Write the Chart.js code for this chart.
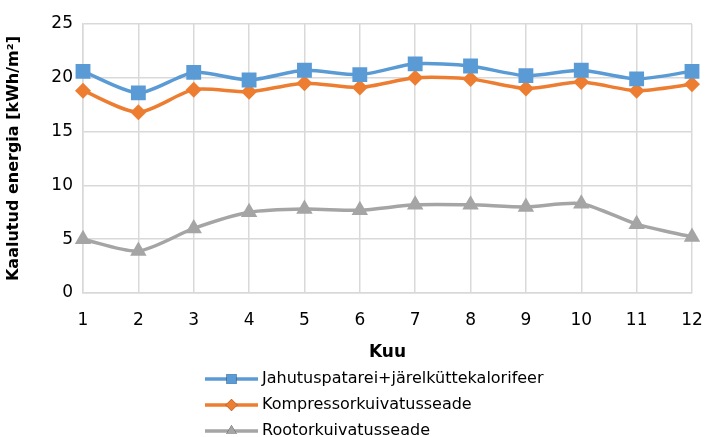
<!DOCTYPE html>
<html>
<head>
<meta charset="utf-8">
<script src="https://cdn.jsdelivr.net/npm/chart.js@4"></script>
<style>
  html, body { margin: 0; padding: 0; background: #fff; }
  #wrap { width: 707px; height: 437px; }
</style>
</head>
<body>
<div id="wrap"><canvas id="c" width="707" height="437"></canvas></div>
<script>
// Monthly weighted energy per dehumidification option
const months = ['1', '2', '3', '4', '5', '6', '7', '8', '9', '10', '11', '12'];
const coolingCoil = [20.6, 18.6, 20.5, 19.8, 20.7, 20.3, 21.3, 21.1, 20.2, 20.7, 19.9, 20.6];
const compressorDryer = [18.8, 16.8, 18.9, 18.7, 19.5, 19.1, 20.0, 19.9, 19.0, 19.6, 18.8, 19.4];
const rotorDryer = [5.0, 3.9, 6.0, 7.5, 7.8, 7.7, 8.2, 8.2, 8.0, 8.3, 6.4, 5.2];
const seriesNames = ['Jahutuspatarei+järelküttekalorifeer', 'Kompressorkuivatusseade', 'Rootorkuivatusseade'];
const yTicks = [0, 5, 10, 15, 20, 25];

const FONT = 'Tahoma, "DejaVu Sans", sans-serif';
const GRID = '#d9d9d9';

// Legend drawn as line + marker rows under the axis title
const lineLegend = {
  id: 'lineLegend',
  afterDraw(chart) {
    const ctx = chart.ctx;
    const top = chart.chartArea.bottom + 86;
    const rowH = 26;
    const x0 = 205, lineLen = 53;
    ctx.save();
    chart.data.datasets.forEach((ds, i) => {
      const y = top + i * rowH;
      ctx.strokeStyle = ds.borderColor;
      ctx.lineWidth = 3.5;
      ctx.beginPath();
      ctx.moveTo(x0, y);
      ctx.lineTo(x0 + lineLen, y);
      ctx.stroke();
      Chart.helpers.drawPoint(ctx, {
        pointStyle: ds.pointStyle,
        radius: ds.pointStyle === 'rect' ? 7 : 6,
        borderWidth: 0
      }, x0 + lineLen / 2, y);
      ctx.fillStyle = ds.borderColor;
      ctx.fill();
      ctx.fillStyle = '#000';
      ctx.font = '16px ' + FONT;
      ctx.textBaseline = 'middle';
      ctx.textAlign = 'left';
      ctx.fillText(ds.label, x0 + lineLen + 4, y);
    });
    ctx.restore();
  }
};

function makeSet(label, data, color, style, radius) {
  return {
    label, data,
    borderColor: color,
    backgroundColor: color,
    borderWidth: 3.5,
    pointStyle: style,
    pointRadius: radius,
    pointHoverRadius: radius,
    pointBorderWidth: 0,
    tension: 0.25,
    cubicInterpolationMode: 'default'
  };
}

new Chart(document.getElementById('c'), {
  type: 'line',
  data: {
    labels: months,
    datasets: [
      makeSet(seriesNames[0], coolingCoil, '#5b9bd5', 'rect', 10.5),
      makeSet(seriesNames[1], compressorDryer, '#ed7d31', 'rectRot', 8),
      makeSet(seriesNames[2], rotorDryer, '#a5a5a5', 'triangle', 9.5)
    ]
  },
  options: {
    responsive: false,
    animation: false,
    devicePixelRatio: 1,
    layout: { padding: { top: 24, right: 15, left: 0, bottom: 74 } },
    plugins: { legend: { display: false }, tooltip: { enabled: false } },
    scales: {
      x: {
        offset: false,
        grid: { color: GRID, lineWidth: 1.5, drawTicks: false },
        border: { color: GRID, width: 1.5 },
        ticks: { color: '#000', font: { family: FONT, size: 17 }, padding: 17, maxRotation: 0 },
        title: { display: true, text: 'Kuu', color: '#000', font: { family: FONT, size: 17, weight: 'bold' }, padding: { top: 6, bottom: 0 } },
        afterFit(s) { s.height = 70; s.paddingLeft = 0; s.paddingRight = 0; }
      },
      y: {
        min: 0, max: 25,
        afterBuildTicks(s) { s.ticks = yTicks.map(v => ({ value: v })); },
        grid: { color: GRID, lineWidth: 1.5, drawTicks: false },
        border: { color: GRID, width: 1.5 },
        ticks: { color: '#000', font: { family: FONT, size: 17 }, padding: 10 },
        title: { display: true, text: 'Kaalutud energia [kWh/m²]', color: '#000', font: { family: FONT, size: 16, weight: 'bold' }, padding: { bottom: 6 } },
        afterFit(s) { s.width = 83; s.paddingTop = 0; s.paddingBottom = 0; }
      }
    }
  },
  plugins: [lineLegend]
});
</script>
</body>
</html>
